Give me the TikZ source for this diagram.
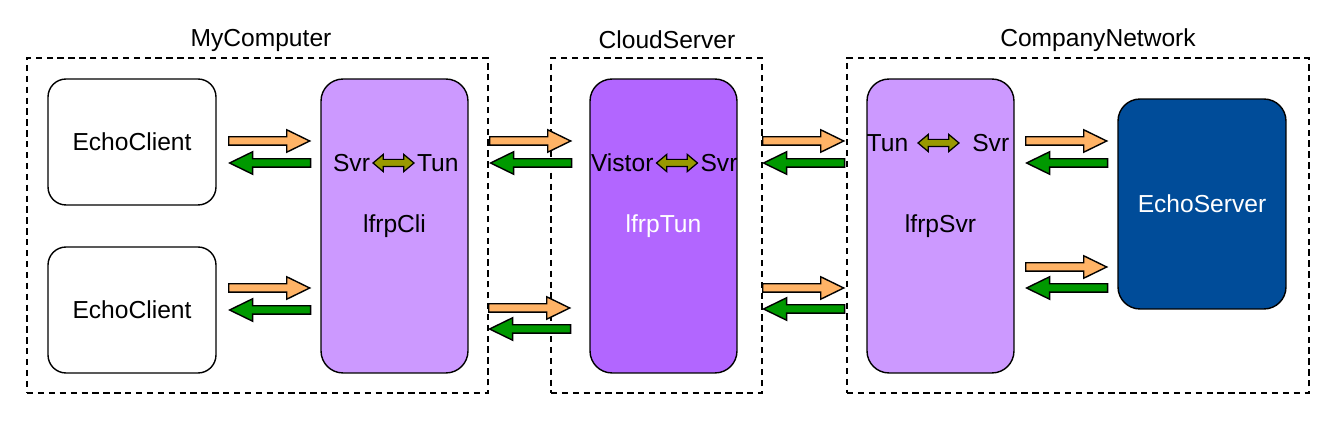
\documentclass[tikz,border=0pt]{standalone}
\usepackage{fontspec}
\setmainfont{Liberation Sans}
\usetikzlibrary{positioning, shapes.arrows}
\definecolor{proxylight}{HTML}{CC99FF}
\definecolor{proxydark}{HTML}{B266FF}
\definecolor{servernavy}{HTML}{004C99}
\definecolor{reqorange}{HTML}{FFB366}
\definecolor{respgreen}{HTML}{009900}
\definecolor{linkolive}{HTML}{999900}
\tikzset{
every node/.style={font=\fontsize{14}{16}\selectfont}, % same font for every label
group/.style={draw, dashed, dash pattern=on 3.6pt off 2.6pt, line width=0.75pt}, % machine boundary
host/.style={draw, line width=0.8pt, rounded corners=0.36cm, minimum width=3.36cm, minimum height=2.52cm},
proxy/.style={draw, line width=0.8pt, fill=proxylight, rounded corners=0.44cm, minimum width=2.94cm, minimum height=5.88cm},
fwd/.style={single arrow, draw, line width=0.8pt, fill=reqorange, inner xsep=0pt, inner ysep=0.07cm,
  minimum height=1.62cm, single arrow head extend=0.14cm, single arrow tip angle=52, anchor=tail}, % request
back/.style={fwd, fill=respgreen, shape border rotate=180, anchor=tip}, % response
link/.style={double arrow, draw, line width=0.7pt, fill=linkolive, inner xsep=0pt, inner ysep=0.06cm,
  minimum height=0.82cm, double arrow head extend=0.1cm, double arrow tip angle=80},
word/.style={inner sep=0pt},
}
\begin{document}
\begin{tikzpicture}[x=0.02cm, y=-0.02cm]
\useasboundingbox (0,0) rectangle (1340,428);
% machines
\node[group, minimum width=9.22cm, minimum height=6.7cm] (mycomputer) at (257.5,225.5) {};
\node[group, minimum width=4.22cm, minimum height=6.7cm] (cloudserver) at (656.5,225.5) {};
\node[group, minimum width=9.24cm, minimum height=6.7cm] (companynet) at (1078,225.5) {};
\node (mycomputerlbl) at (261,40) {MyComputer};
\node (cloudserverlbl) at (667,40) {CloudServer};
\node (companynetlbl) at (1098,40) {CompanyNetwork};

% endpoints and proxies
\node[host] (clientA) at (132,142) {EchoClient};
\node[host] (clientB) at (132,310) {EchoClient};
\node[proxy] (cli) at (394.5,226) {lfrpCli};
\node[proxy, fill=proxydark, text=white] (tun) at (663.5,226) {lfrpTun};
\node[proxy] (svr) at (940.5,226) {lfrpSvr};
\node[host, fill=servernavy, text=white, minimum height=4.2cm, rounded corners=0.44cm] (server) at (1202,204) {EchoServer};

% inner links
\node[link] (link1) at (393.5,163) {};
\node[word, left=1pt of link1] (link1l) {Svr};
\node[word, right=1pt of link1] (link1r) {Tun};
\node[link] (link2) at (677,163) {};
\node[word, left=1pt of link2] (link2l) {Vistor};
\node[word, right=1pt of link2] (link2r) {Svr};
\node[link] (link3) at (938.5,143) {};
\node[word, left=0.17cm of link3] (link3l) {Tun};
\node[word, right=0.24cm of link3] (link3r) {Svr};

% traffic, left end of each pair
\foreach \x/\yf/\yb [count=\i] in {228/141/163, 228/288/310, 489/141/163, 488/308/329,
  762/141/163, 762/288/309, 1025/141/163, 1025/267/288}{
  \node[fwd] (fwd\i) at (\x,\yf) {};
  \node[back] (back\i) at (\x,\yb) {};
}
\end{tikzpicture}
\end{document}
